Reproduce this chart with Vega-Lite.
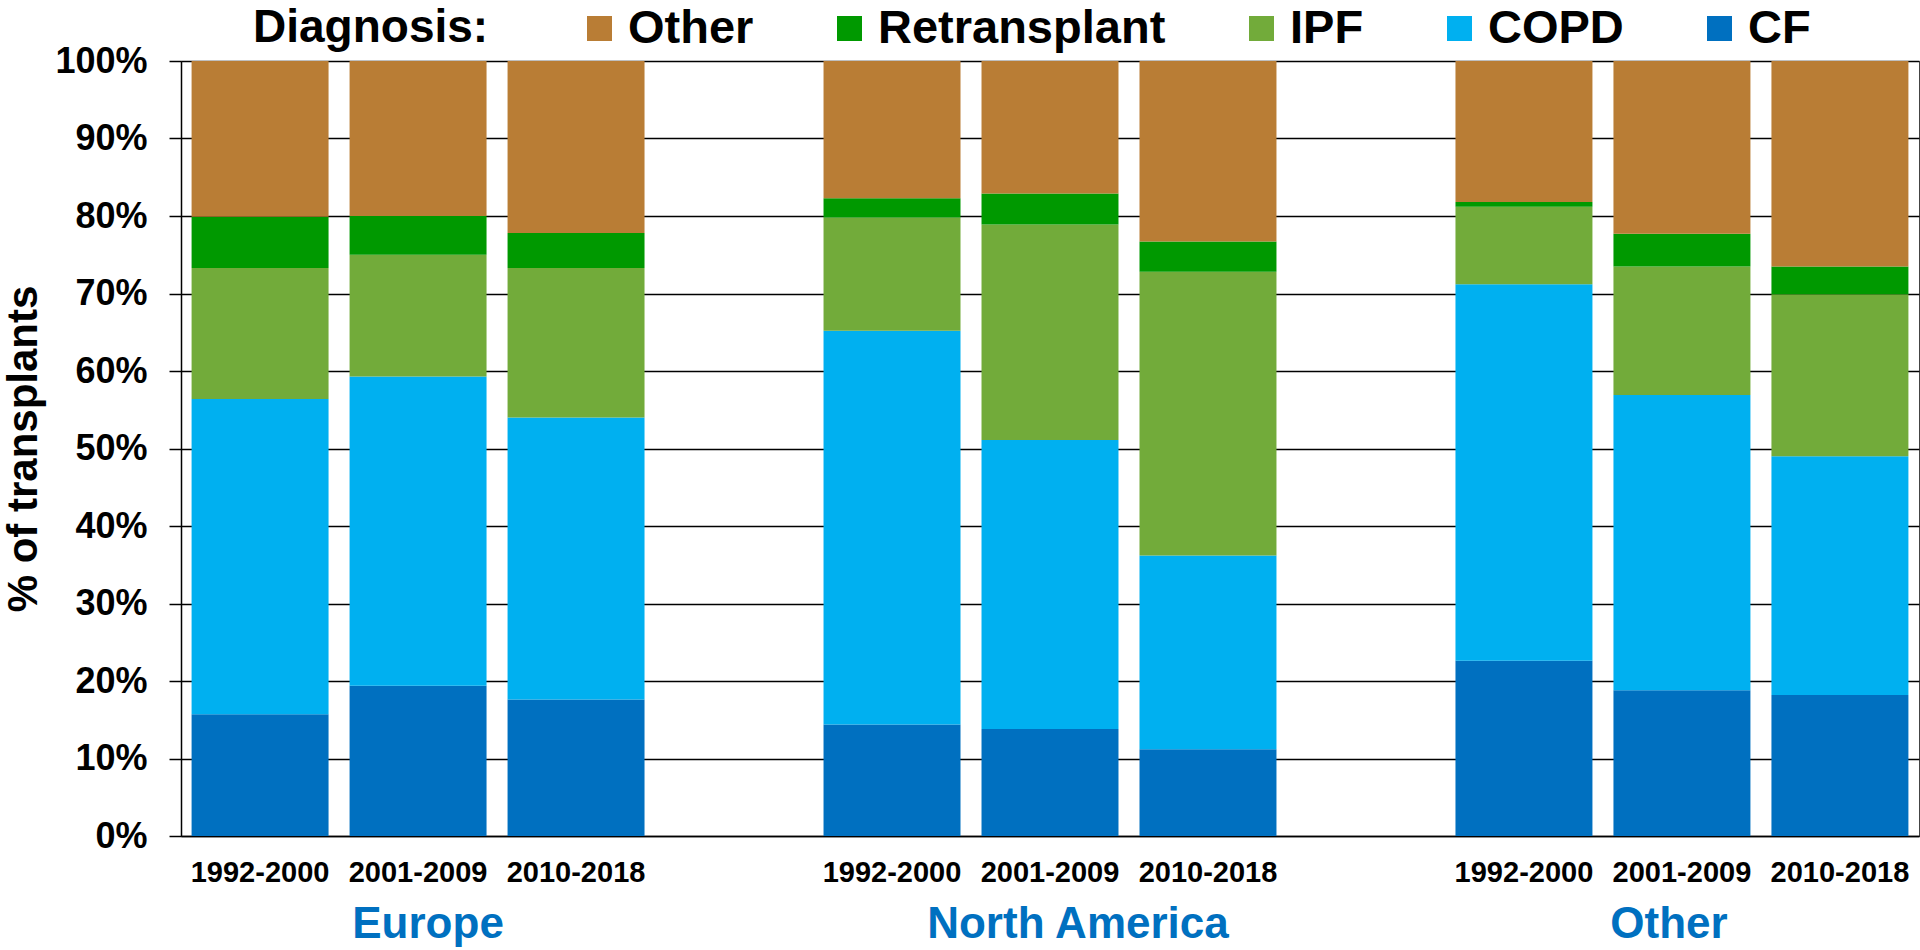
{
  "$schema": "https://vega.github.io/schema/vega-lite/v6.json",
  "width": 1738,
  "height": 775,
  "autosize": {"type": "none"},
  "padding": {"left": 181, "top": 61, "right": 1, "bottom": 114},
  "background": "white",
  "config": {
    "font": "Liberation Sans",
    "view": {"stroke": "#444", "strokeWidth": 1}
  },
  "data": {
    "values": [
      {"bar": "Europe|1992-2000", "region": "Europe", "period": "1992-2000", "diagnosis": "CF", "value": 15.7},
      {"bar": "Europe|1992-2000", "region": "Europe", "period": "1992-2000", "diagnosis": "COPD", "value": 40.7},
      {"bar": "Europe|1992-2000", "region": "Europe", "period": "1992-2000", "diagnosis": "IPF", "value": 16.9},
      {"bar": "Europe|1992-2000", "region": "Europe", "period": "1992-2000", "diagnosis": "Retransplant", "value": 6.6},
      {"bar": "Europe|1992-2000", "region": "Europe", "period": "1992-2000", "diagnosis": "Other", "value": 20.1},
      {"bar": "Europe|2001-2009", "region": "Europe", "period": "2001-2009", "diagnosis": "CF", "value": 19.4},
      {"bar": "Europe|2001-2009", "region": "Europe", "period": "2001-2009", "diagnosis": "COPD", "value": 39.9},
      {"bar": "Europe|2001-2009", "region": "Europe", "period": "2001-2009", "diagnosis": "IPF", "value": 15.7},
      {"bar": "Europe|2001-2009", "region": "Europe", "period": "2001-2009", "diagnosis": "Retransplant", "value": 5.0},
      {"bar": "Europe|2001-2009", "region": "Europe", "period": "2001-2009", "diagnosis": "Other", "value": 20.0},
      {"bar": "Europe|2010-2018", "region": "Europe", "period": "2010-2018", "diagnosis": "CF", "value": 17.6},
      {"bar": "Europe|2010-2018", "region": "Europe", "period": "2010-2018", "diagnosis": "COPD", "value": 36.4},
      {"bar": "Europe|2010-2018", "region": "Europe", "period": "2010-2018", "diagnosis": "IPF", "value": 19.3},
      {"bar": "Europe|2010-2018", "region": "Europe", "period": "2010-2018", "diagnosis": "Retransplant", "value": 4.5},
      {"bar": "Europe|2010-2018", "region": "Europe", "period": "2010-2018", "diagnosis": "Other", "value": 22.2},
      {"bar": "North America|1992-2000", "region": "North America", "period": "1992-2000", "diagnosis": "CF", "value": 14.4},
      {"bar": "North America|1992-2000", "region": "North America", "period": "1992-2000", "diagnosis": "COPD", "value": 50.8},
      {"bar": "North America|1992-2000", "region": "North America", "period": "1992-2000", "diagnosis": "IPF", "value": 14.6},
      {"bar": "North America|1992-2000", "region": "North America", "period": "1992-2000", "diagnosis": "Retransplant", "value": 2.5},
      {"bar": "North America|1992-2000", "region": "North America", "period": "1992-2000", "diagnosis": "Other", "value": 17.7},
      {"bar": "North America|2001-2009", "region": "North America", "period": "2001-2009", "diagnosis": "CF", "value": 13.8},
      {"bar": "North America|2001-2009", "region": "North America", "period": "2001-2009", "diagnosis": "COPD", "value": 37.3},
      {"bar": "North America|2001-2009", "region": "North America", "period": "2001-2009", "diagnosis": "IPF", "value": 27.8},
      {"bar": "North America|2001-2009", "region": "North America", "period": "2001-2009", "diagnosis": "Retransplant", "value": 4.0},
      {"bar": "North America|2001-2009", "region": "North America", "period": "2001-2009", "diagnosis": "Other", "value": 17.1},
      {"bar": "North America|2010-2018", "region": "North America", "period": "2010-2018", "diagnosis": "CF", "value": 11.2},
      {"bar": "North America|2010-2018", "region": "North America", "period": "2010-2018", "diagnosis": "COPD", "value": 25.0},
      {"bar": "North America|2010-2018", "region": "North America", "period": "2010-2018", "diagnosis": "IPF", "value": 36.6},
      {"bar": "North America|2010-2018", "region": "North America", "period": "2010-2018", "diagnosis": "Retransplant", "value": 3.9},
      {"bar": "North America|2010-2018", "region": "North America", "period": "2010-2018", "diagnosis": "Other", "value": 23.3},
      {"bar": "Other|1992-2000", "region": "Other", "period": "1992-2000", "diagnosis": "CF", "value": 22.6},
      {"bar": "Other|1992-2000", "region": "Other", "period": "1992-2000", "diagnosis": "COPD", "value": 48.6},
      {"bar": "Other|1992-2000", "region": "Other", "period": "1992-2000", "diagnosis": "IPF", "value": 10.0},
      {"bar": "Other|1992-2000", "region": "Other", "period": "1992-2000", "diagnosis": "Retransplant", "value": 0.6},
      {"bar": "Other|1992-2000", "region": "Other", "period": "1992-2000", "diagnosis": "Other", "value": 18.2},
      {"bar": "Other|2001-2009", "region": "Other", "period": "2001-2009", "diagnosis": "CF", "value": 18.8},
      {"bar": "Other|2001-2009", "region": "Other", "period": "2001-2009", "diagnosis": "COPD", "value": 38.1},
      {"bar": "Other|2001-2009", "region": "Other", "period": "2001-2009", "diagnosis": "IPF", "value": 16.6},
      {"bar": "Other|2001-2009", "region": "Other", "period": "2001-2009", "diagnosis": "Retransplant", "value": 4.2},
      {"bar": "Other|2001-2009", "region": "Other", "period": "2001-2009", "diagnosis": "Other", "value": 22.3},
      {"bar": "Other|2010-2018", "region": "Other", "period": "2010-2018", "diagnosis": "CF", "value": 18.2},
      {"bar": "Other|2010-2018", "region": "Other", "period": "2010-2018", "diagnosis": "COPD", "value": 30.8},
      {"bar": "Other|2010-2018", "region": "Other", "period": "2010-2018", "diagnosis": "IPF", "value": 20.9},
      {"bar": "Other|2010-2018", "region": "Other", "period": "2010-2018", "diagnosis": "Retransplant", "value": 3.6},
      {"bar": "Other|2010-2018", "region": "Other", "period": "2010-2018", "diagnosis": "Other", "value": 26.5}
    ]
  },
  "layer": [
    {
      "transform": [
        {"calculate": "indexof(['CF', 'COPD', 'IPF', 'Retransplant', 'Other'], datum.diagnosis)", "as": "stack_order"}
      ],
      "mark": {"type": "bar"},
      "encoding": {
        "x": {
          "field": "bar",
          "type": "nominal",
          "scale": {
            "type": "band",
            "domain": ["Europe|1992-2000", "Europe|2001-2009", "Europe|2010-2018", "gap1", "North America|1992-2000", "North America|2001-2009", "North America|2010-2018", "gap2", "Other|1992-2000", "Other|2001-2009", "Other|2010-2018"],
            "paddingInner": 0.133,
            "paddingOuter": 0.067
          },
          "axis": {
            "orient": "bottom",
            "title": null,
            "labelExpr": "indexof(datum.label, '|') >= 0 ? split(datum.label, '|')[1] : ''",
            "labelAngle": 0,
            "labelFont": "Liberation Sans",
            "labelFontWeight": "bold",
            "labelFontSize": 29,
            "labelColor": "#000",
            "labelPadding": 22,
            "labelLimit": 400,
            "ticks": false,
            "domainColor": "#000",
            "domainWidth": 1.5,
            "grid": false
          }
        },
        "y": {
          "field": "value",
          "type": "quantitative",
          "stack": "zero",
          "scale": {"domain": [0, 100], "nice": false},
          "axis": {
            "title": "% of transplants",
            "titleFont": "Liberation Sans",
            "titleFontWeight": "bold",
            "titleFontSize": 42,
            "titleColor": "#000",
            "titlePadding": 9,
            "values": [0, 10, 20, 30, 40, 50, 60, 70, 80, 90, 100],
            "labelExpr": "datum.value + '%'",
            "labelFont": "Liberation Sans",
            "labelFontWeight": "bold",
            "labelFontSize": 36,
            "labelColor": "#000",
            "labelPadding": 22,
            "tickColor": "#000",
            "tickSize": 12,
            "tickWidth": 1.5,
            "domainColor": "#000",
            "domainWidth": 1.5,
            "grid": true,
            "gridColor": "#000",
            "gridWidth": 1.5
          }
        },
        "order": {"field": "stack_order", "type": "quantitative", "sort": "ascending"},
        "color": {
          "field": "diagnosis",
          "type": "nominal",
          "sort": ["Other", "Retransplant", "IPF", "COPD", "CF"],
          "scale": {
            "domain": ["Other", "Retransplant", "IPF", "COPD", "CF"],
            "range": ["#B97D35", "#009900", "#72AB3A", "#00B0F0", "#0070C0"]
          },
          "legend": {
            "orient": "none",
            "legendX": 72,
            "legendY": -56,
            "direction": "horizontal",
            "gridAlign": "none",
            "title": "Diagnosis:",
            "titleOrient": "left",
            "titleFont": "Liberation Sans",
            "titleFontWeight": "bold",
            "titleFontSize": 46,
            "titleColor": "#000",
            "titlePadding": 87,
            "titleBaseline": "middle",
            "titleLimit": 600,
            "labelFont": "Liberation Sans",
            "labelFontWeight": "bold",
            "labelFontSize": 47,
            "labelColor": "#000",
            "labelOffset": 5,
            "labelLimit": 600,
            "columnPadding": 72,
            "symbolType": "square",
            "symbolSize": 625,
            "symbolStrokeWidth": 0,
            "symbolOpacity": 1,
            "padding": 0
          }
        }
      }
    },
    {
      "mark": {"type": "rule", "opacity": 0},
      "encoding": {
        "x": {
          "field": "bar",
          "type": "nominal",
          "scale": {
            "type": "band",
            "domain": ["Europe|1992-2000", "Europe|2001-2009", "Europe|2010-2018", "gap1", "North America|1992-2000", "North America|2001-2009", "North America|2010-2018", "gap2", "Other|1992-2000", "Other|2001-2009", "Other|2010-2018"],
            "paddingInner": 0.133,
            "paddingOuter": 0.067
          },
          "axis": {
            "orient": "bottom",
            "title": null,
            "labelExpr": "indexof(datum.label, '|2001-2009') >= 0 ? split(datum.label, '|')[0] : ''",
            "labelAngle": 0,
            "labelFont": "Liberation Sans",
            "labelFontWeight": "bold",
            "labelFontSize": 44,
            "labelColor": "#0070C0",
            "labelPadding": 66,
            "labelLimit": 600,
            "labelOffset": {"expr": "indexof(datum.label, 'North') >= 0 ? 28 : indexof(datum.label, 'Europe') >= 0 ? 10 : -13"},
            "ticks": false,
            "domain": false,
            "grid": false
          }
        }
      }
    }
  ],
  "resolve": {"scale": {"x": "independent"}, "axis": {"x": "independent"}}
}
